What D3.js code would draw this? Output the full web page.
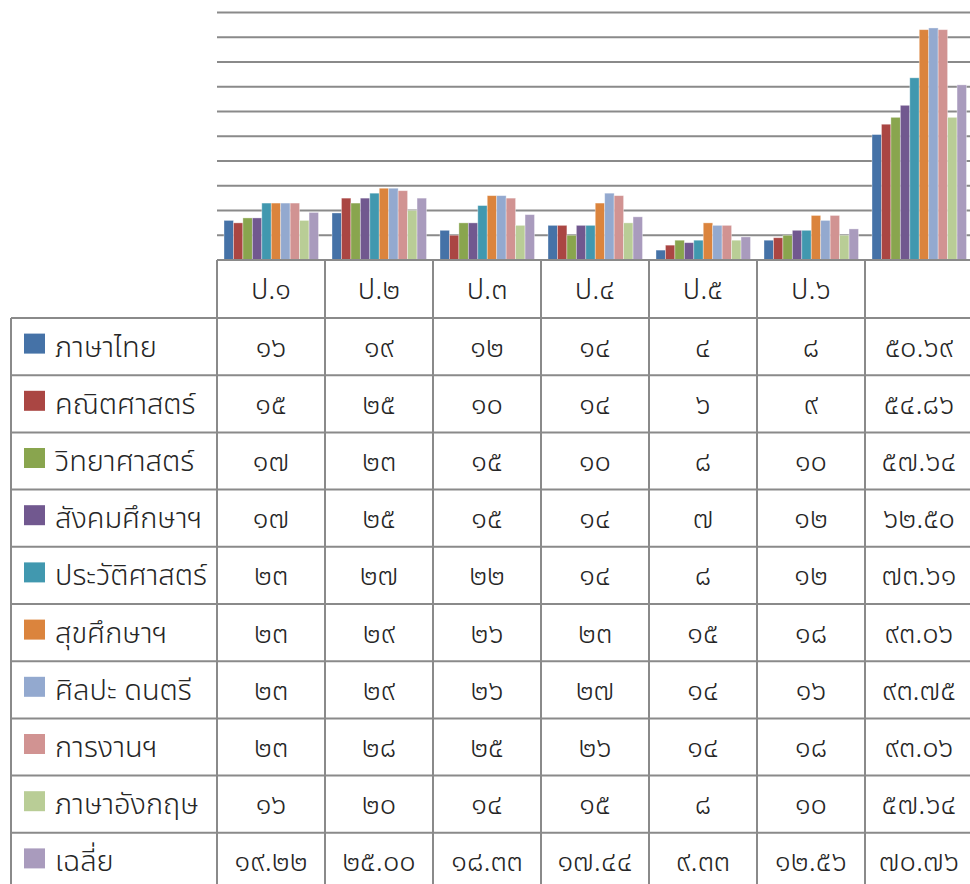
<!DOCTYPE html>
<html>
<head>
<meta charset="utf-8">
<script src="https://cdn.jsdelivr.net/npm/d3@7"></script>
<style>
  html, body { margin: 0; padding: 0; background: #fff; }
  svg { display: block; }
  text { font-family: "Noto Sans Thai", "Noto Sans Thai UI", "Noto Sans", "DejaVu Sans", sans-serif; fill: #262626; font-weight: 300; }
</style>
</head>
<body>
<svg id="chart" width="970" height="884"></svg>
<script>
// ---- data ----
const categories = ["ป.1", "ป.2", "ป.3", "ป.4", "ป.5", "ป.6", ""];
const seriesNames = ["ภาษาไทย", "คณิตศาสตร์", "วิทยาศาสตร์", "สังคมศึกษาฯ", "ประวัติศาสตร์",
                     "สุขศึกษาฯ", "ศิลปะ ดนตรี", "การงานฯ", "ภาษาอังกฤษ", "เฉลี่ย"];
const colors = ["#4572A7", "#AA4643", "#89A54E", "#71588F", "#4198AF",
                "#DB843D", "#93A9CF", "#D19392", "#B9CD96", "#A99BBD"];
const thaiLang   = [16, 19, 12, 14, 4, 8, 50.69];
const math       = [15, 25, 10, 14, 6, 9, 54.86];
const science    = [17, 23, 15, 10, 8, 10, 57.64];
const social     = [17, 25, 15, 14, 7, 12, 62.50];
const history    = [23, 27, 22, 14, 8, 12, 73.61];
const health     = [23, 29, 26, 23, 15, 18, 93.06];
const arts       = [23, 29, 26, 27, 14, 16, 93.75];
const work       = [23, 28, 25, 26, 14, 18, 93.06];
const english    = [16, 20, 14, 15, 8, 10, 57.64];
const average    = [19.22, 25.00, 18.33, 17.44, 9.33, 12.56, 70.76];
const yTicks = [0, 10, 20, 30, 40, 50, 60, 70, 80, 90, 100];

const seriesValues = [thaiLang, math, science, social, history, health, arts, work, english, average];

// ---- helpers ----
const thaiDigits = "๐๑๒๓๔๕๖๗๘๙";
const toThai = s => String(s).replace(/[0-9]/g, d => thaiDigits[+d]);
function fmt(v, si, ci) {
  const decimals = (ci === categories.length - 1 || si === seriesNames.length - 1) ? 2 : 0;
  return toThai(v.toFixed(decimals));
}

// ---- layout ----
const svg = d3.select("#chart");
const tableLeft = 11, colStart = 217, colW = 108;
const plotTop = 12.5, plotBottom = 260;
const headerBottom = 318, rowH = 57.2;
const lineColor = "#8a8a8a";
const fontSize = 29;

const x = d3.scaleBand().domain(d3.range(categories.length))
  .range([colStart, colStart + colW * categories.length]);
const xi = d3.scaleBand().domain(d3.range(seriesNames.length))
  .range([7, 101.5]);
const y = d3.scaleLinear().domain([0, 100]).range([plotBottom, plotTop]);

// gridlines
svg.append("g").selectAll("line").data(yTicks.slice(1)).join("line")
  .attr("x1", colStart).attr("x2", 970)
  .attr("y1", d => y(d)).attr("y2", d => y(d))
  .attr("stroke", lineColor).attr("stroke-width", 2);

// bars
const groups = svg.append("g").selectAll("g").data(categories).join("g")
  .attr("transform", (d, i) => `translate(${x(i)},0)`);
groups.selectAll("rect").data((d, ci) => seriesValues.map((s, si) => ({ v: s[ci], si })))
  .join("rect")
  .attr("x", d => xi(d.si))
  .attr("width", xi.bandwidth())
  .attr("y", d => y(d.v))
  .attr("height", d => y(0) - y(d.v))
  .attr("fill", d => colors[d.si])
  .attr("stroke", "rgba(255,255,255,0.45)")
  .attr("stroke-width", 0.8);

// ---- table ----
const tg = svg.append("g");
const rowY = i => headerBottom + rowH * i;
const tableRight = colStart + colW * categories.length;

// horizontal lines
tg.append("line").attr("x1", colStart).attr("x2", tableRight).attr("y1", plotBottom).attr("y2", plotBottom)
  .attr("stroke", lineColor).attr("stroke-width", 2);
tg.selectAll("line.h").data(d3.range(seriesNames.length + 1)).join("line").attr("class", "h")
  .attr("x1", tableLeft).attr("x2", tableRight)
  .attr("y1", d => rowY(d)).attr("y2", d => rowY(d))
  .attr("stroke", lineColor).attr("stroke-width", 2);
// vertical lines
tg.append("line").attr("x1", tableLeft).attr("x2", tableLeft).attr("y1", headerBottom).attr("y2", 900)
  .attr("stroke", lineColor).attr("stroke-width", 2);
tg.selectAll("line.v").data(d3.range(categories.length + 1)).join("line").attr("class", "v")
  .attr("x1", d => colStart + colW * d).attr("x2", d => colStart + colW * d)
  .attr("y1", plotBottom).attr("y2", 900)
  .attr("stroke", lineColor).attr("stroke-width", 2);

// header labels
tg.selectAll("text.hdr").data(categories).join("text").attr("class", "hdr")
  .attr("x", (d, i) => x(i) + colW / 2)
  .attr("y", (plotBottom + headerBottom) / 2 + 1)
  .attr("text-anchor", "middle").attr("dominant-baseline", "central")
  .attr("font-size", fontSize)
  .text(d => toThai(d));

// rows
const rows = tg.selectAll("g.row").data(seriesNames).join("g").attr("class", "row")
  .attr("transform", (d, i) => `translate(0,${rowY(i) + rowH / 2})`);
rows.append("rect")
  .attr("x", 24).attr("y", -13).attr("width", 21).attr("height", 20)
  .attr("fill", (d, i) => colors[i]);
rows.append("text")
  .attr("x", 55).attr("y", 1)
  .attr("dominant-baseline", "central")
  .attr("font-size", fontSize)
  .text(d => d);
rows.each(function (name, si) {
  d3.select(this).selectAll("text.val").data(seriesValues[si]).join("text").attr("class", "val")
    .attr("x", (v, ci) => x(ci) + colW / 2)
    .attr("y", 1)
    .attr("text-anchor", "middle").attr("dominant-baseline", "central")
    .attr("font-size", fontSize)
    .text((v, ci) => fmt(v, si, ci));
});
</script>
</body>
</html>
